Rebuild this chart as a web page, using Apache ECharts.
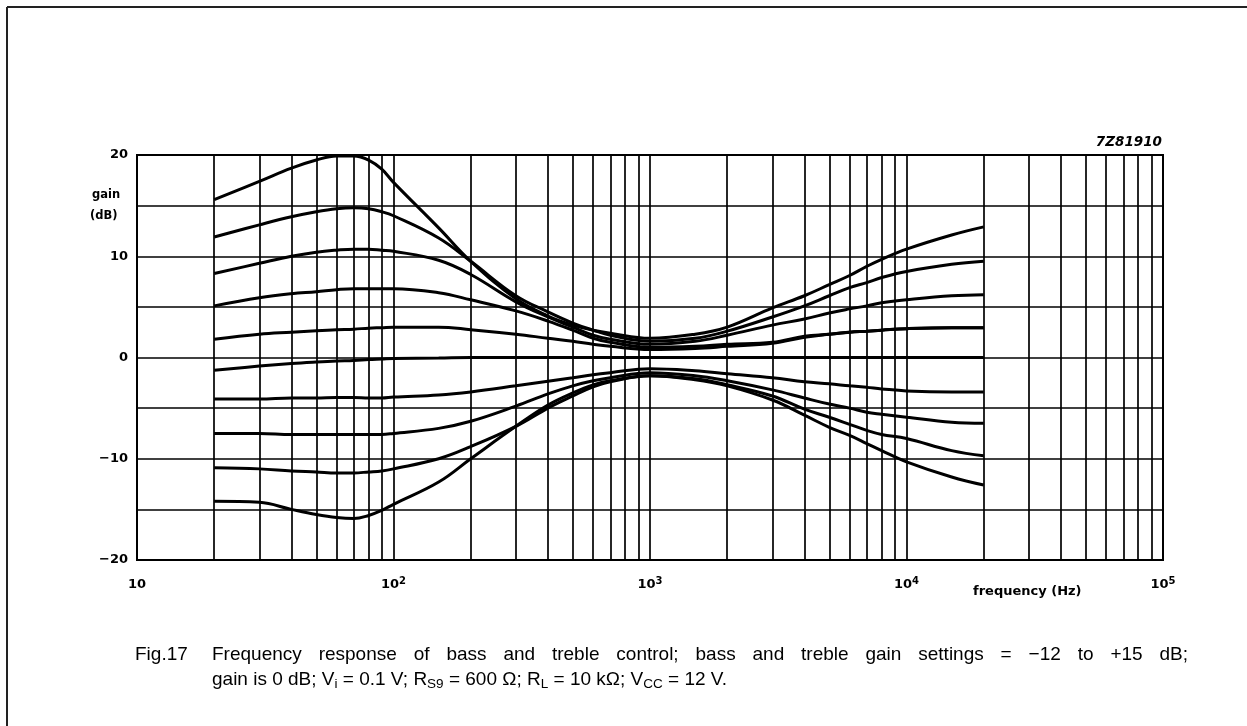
<!DOCTYPE html>
<html>
<head>
<meta charset="utf-8">
<script src="https://cdn.jsdelivr.net/npm/echarts@6/dist/echarts.min.js"></script>
<style>
html,body{margin:0;padding:0;background:#fff;}
#chart{width:1247px;height:726px;}
</style>
</head>
<body>
<div id="chart"></div>
<script>
// Frequencies (Hz) at which the curves were read
const freqs = [20,30,40,50,60,70,80,90,100,150,200,300,400,500,600,700,1000,1500,2000,3000,4000,5000,6000,7000,8000,10000,15000,20000];

// Gain (dB) of each curve
const curve1  = [15.6,17.4,18.7,19.5,19.9,19.9,19.5,18.6,17.3,12.8,9.5,5.8,4.1,3.2,2.7,2.4,1.9,2.3,3.0,4.9,6.1,7.2,8.1,9.0,9.7,10.7,12.1,12.9];
const curve2  = [11.9,13.1,13.9,14.4,14.7,14.8,14.7,14.4,14.0,11.8,9.5,6.1,4.5,3.4,2.7,2.2,1.6,1.9,2.6,4.0,5.1,6.1,6.9,7.4,7.9,8.5,9.2,9.5];
const curve3  = [8.3,9.3,10.0,10.4,10.6,10.7,10.7,10.6,10.5,9.6,8.2,5.5,4.0,3.0,2.2,1.8,1.3,1.6,2.2,3.2,3.8,4.4,4.8,5.1,5.4,5.7,6.1,6.2];
const curve4  = [5.1,5.9,6.3,6.5,6.7,6.8,6.8,6.8,6.8,6.4,5.7,4.6,3.6,2.7,1.9,1.5,1.0,1.1,1.3,1.5,2.1,2.3,2.5,2.6,2.7,2.85,2.95,2.95];
const curve5  = [1.8,2.3,2.5,2.65,2.75,2.8,2.9,2.95,3.0,3.0,2.75,2.3,1.9,1.6,1.3,1.1,0.8,0.9,1.1,1.4,2.0,2.3,2.5,2.6,2.7,2.85,2.95,2.95];
const curve6  = [-1.25,-0.85,-0.6,-0.45,-0.35,-0.3,-0.2,-0.15,-0.1,-0.05,0,0,0,0,0,0,0,0,0,0,0,0,0,0,0,0,0,0];
const curve7  = [-4.1,-4.1,-4.0,-4.0,-3.95,-3.95,-4.0,-4.0,-3.9,-3.7,-3.4,-2.8,-2.35,-2.0,-1.7,-1.5,-1.1,-1.3,-1.6,-2.0,-2.4,-2.6,-2.8,-2.95,-3.1,-3.3,-3.4,-3.4];
const curve8  = [-7.5,-7.5,-7.6,-7.6,-7.6,-7.6,-7.6,-7.6,-7.5,-7.0,-6.3,-4.8,-3.6,-2.8,-2.3,-2.0,-1.5,-1.8,-2.3,-3.2,-4.0,-4.6,-5.0,-5.4,-5.6,-5.9,-6.4,-6.5];
const curve9  = [-10.9,-11.0,-11.2,-11.3,-11.4,-11.4,-11.3,-11.2,-11.0,-10.0,-8.8,-6.8,-5.0,-3.8,-2.9,-2.4,-1.8,-2.1,-2.7,-3.8,-5.1,-5.9,-6.6,-7.2,-7.6,-8.0,-9.2,-9.7];
const curve10 = [-14.2,-14.3,-15.0,-15.5,-15.8,-15.9,-15.6,-15.1,-14.5,-12.3,-10.0,-6.8,-4.7,-3.5,-2.7,-2.3,-1.8,-2.2,-2.8,-4.2,-5.7,-6.9,-7.7,-8.5,-9.2,-10.3,-11.8,-12.6];

// Tick labels
const yTickLabels = {'-20':'\u221220','-10':'\u221210','0':'0','10':'10','20':'20'};
const xDecadeExponents = [1,2,3,4,5];
// Minor (log) grid line frequencies
const minorGridFreqs = [20,30,40,50,60,70,80,90,200,300,400,500,600,700,800,900,2000,3000,4000,5000,6000,7000,8000,9000,20000,30000,40000,50000,60000,70000,80000,90000];

// Caption text
const captionLabel = 'Fig.17';
const captionLine1 = 'Frequency response of bass and treble control; bass and treble gain settings = \u221212 to +15 dB;';

const curves = [curve1,curve2,curve3,curve4,curve5,curve6,curve7,curve8,curve9,curve10];
const FONT = '"Liberation Sans", Arial, sans-serif';
const AXFONT = '"DejaVu Sans", sans-serif';
const CAPSIZE = 19;

// justified first caption line (word positions from measured widths)
const mctx = document.createElement('canvas').getContext('2d');
mctx.font = CAPSIZE + 'px "Liberation Sans"';
const capLeft = 135, capIndent = 212, capRight = 1188, capY1 = 655, capY2 = 680;
const words = captionLine1.split(' ');
const wordW = words.map(w => mctx.measureText(w).width);
const totalW = wordW.reduce((a,b)=>a+b,0);
const gap = (capRight - capIndent - totalW) / (words.length - 1);
const captionGraphics = [{type:'text', x:capLeft, y:capY1, style:{text:captionLabel, font:CAPSIZE+'px '+FONT, fill:'#000', textVerticalAlign:'middle'}}];
let cx = capIndent;
words.forEach((w,i) => {
  captionGraphics.push({type:'text', x:cx, y:capY1, style:{text:w, font:CAPSIZE+'px '+FONT, fill:'#000', textVerticalAlign:'middle'}});
  cx += wordW[i] + gap;
});

const chart = echarts.init(document.getElementById('chart'), null, {renderer:'canvas'});

const series = [{
  type:'line', data:[], silent:true, z:1,
  markLine:{
    silent:true, symbol:['none','none'], label:{show:false},
    lineStyle:{color:'#000', width:1.7, type:'solid'},
    emphasis:{disabled:true},
    animation:false,
    data: minorGridFreqs.map(f => ({xAxis:f}))
  }
}];
curves.forEach((c,i) => {
  series.push({
    type:'line', name:'c'+(i+1), z:5,
    data: freqs.map((f,k) => [f, c[k]]),
    showSymbol:false, symbol:'none', smooth:0.4,
    lineStyle:{color:'#000', width:3},
    silent:true
  });
});

chart.setOption({
  animation:false,
  backgroundColor:'#fff',
  grid:{left:137, right:84, top:155, bottom:166, show:true, borderColor:'#000', borderWidth:2},
  xAxis:{
    type:'log', logBase:10, min:10, max:100000,
    axisLine:{show:false}, axisTick:{show:false},
    splitLine:{show:true, lineStyle:{color:'#000', width:1.7}},
    axisLabel:{
      margin:16, color:'#000',
      formatter: function(v){
        const e = Math.round(Math.log10(v));
        if (xDecadeExponents.indexOf(e) < 0) return '';
        if (e === 1) return '{b|10}';
        return '{b|10}{s|' + e + '}';
      },
      rich:{
        b:{fontFamily:AXFONT, fontWeight:'bold', fontSize:13, lineHeight:18, color:'#000'},
        s:{fontFamily:AXFONT, fontWeight:'bold', fontSize:10, lineHeight:10, verticalAlign:'top', color:'#000'}
      }
    }
  },
  yAxis:{
    type:'value', min:-20, max:20, interval:5,
    axisLine:{show:false}, axisTick:{show:false},
    splitLine:{show:true, lineStyle:{color:'#000', width:1.7}},
    axisLabel:{
      margin:9, color:'#000', fontFamily:AXFONT, fontWeight:'bold', fontSize:13,
      formatter: v => (yTickLabels[String(v)] !== undefined ? yTickLabels[String(v)] : '')
    }
  },
  graphic:[
    {type:'line', shape:{x1:7, y1:7, x2:1247, y2:7}, style:{stroke:'#222', lineWidth:2}},
    {type:'line', shape:{x1:7, y1:7, x2:7, y2:726}, style:{stroke:'#222', lineWidth:2}},
    {type:'text', left:92, top:189, style:{text:'gain', font:'bold 11.5px '+AXFONT, fill:'#000'}},
    {type:'text', left:90, top:210, style:{text:'(dB)', font:'bold 11.5px '+AXFONT, fill:'#000'}},
    {type:'text', left:973, top:585, style:{text:'frequency (Hz)', font:'bold 13px '+AXFONT, fill:'#000'}},
    {type:'text', right:85, top:135, style:{text:'7Z81910', font:'italic bold 13.5px '+AXFONT, fill:'#000'}},
    {type:'text', x:capIndent, y:capY2, style:{
      textVerticalAlign:'middle',
      text:'{n|gain is 0 dB; V}{s|i}{n| = 0.1 V; R}{s|S9}{n| = 600 \u03A9; R}{s|L}{n| = 10 k\u03A9; V}{s|CC}{n| = 12 V.}',
      rich:{
        n:{fontFamily:FONT, fontSize:CAPSIZE, lineHeight:22, fill:'#000'},
        s:{fontFamily:FONT, fontSize:13.5, lineHeight:12, verticalAlign:'bottom', fill:'#000'}
      }}}
  ].concat(captionGraphics),
  series: series
});
</script>
</body>
</html>
